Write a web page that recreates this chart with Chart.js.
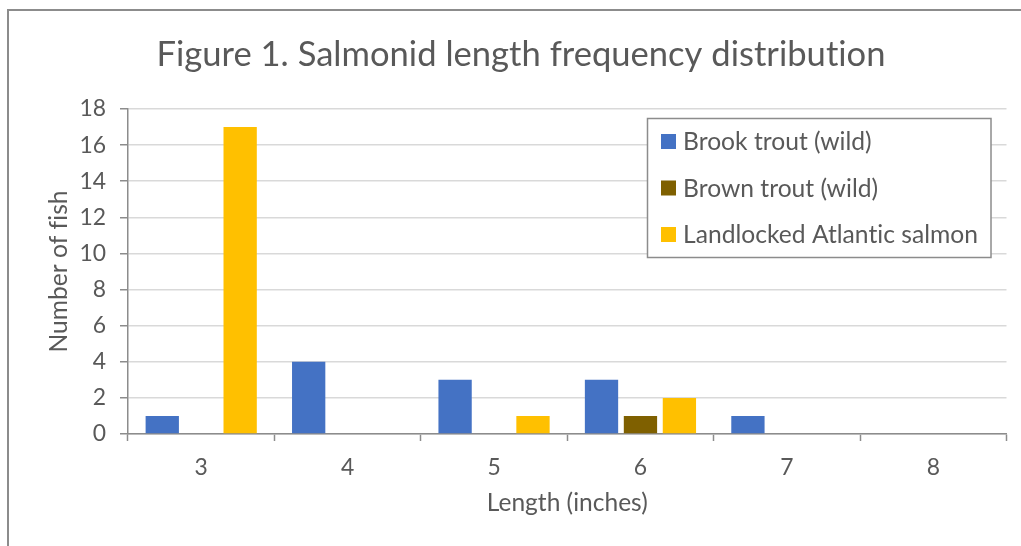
<!DOCTYPE html>
<html><head><meta charset="utf-8">
<script src="https://cdn.jsdelivr.net/npm/chart.js@4"></script>
<style>
html,body{margin:0;padding:0;background:#fff;overflow:hidden;width:1021px;height:546px;}
#wrap{position:absolute;left:0;top:0;width:1021px;height:546px;}
#frame{position:absolute;left:7px;top:9px;width:1100px;height:700px;border:2px solid #8c8c8c;box-sizing:border-box;pointer-events:none;}
</style></head><body>
<div id="wrap"><canvas id="c" width="1021" height="546"></canvas></div>
<div id="frame"></div>
<script>
// ---- data ----
const categories = ['3', '4', '5', '6', '7', '8'];
const brookTrout = [1, 4, 3, 3, 1, 0];
const brownTrout = [0, 0, 0, 1, 0, 0];
const atlanticSalmon = [17, 0, 1, 2, 0, 0];
const seriesNames = ['Brook trout (wild)', 'Brown trout (wild)', 'Landlocked Atlantic salmon'];
const chartTitle = 'Figure 1. Salmonid length frequency distribution';
const xTitle = 'Length (inches)';
const yTitle = 'Number of fish';
const yMin = 0, yMax = 18, yStep = 2;

// ---- styling ----
const FAMILY = 'Lato, "Open Sans", sans-serif';
const TEXT = '#595959';
const AXIS = '#8c8c8c';
const GRID = '#d9d9d9';
const colors = ['#4472C4', '#7F6000', '#FFC000'];
const SPACING = '0.01px'; // non-zero spacing disables ligatures (fi, ti)

function fit(text, target) {
  const c = document.createElement('canvas').getContext('2d');
  c.font = '100px ' + FAMILY;
  if ('letterSpacing' in c) c.letterSpacing = SPACING;
  return 100 * target / c.measureText(text).width;
}
const titleSize = fit(chartTitle, 729);
const legendSize = fit(seriesNames[2], 295);
const ySize = fit(yTitle, 162);
const xSize = fit(xTitle, 161);
const tickSize = legendSize * 0.93;
const PAD_L = 35.5, PAD_R = 14.5;

const noLigatures = {
  id: 'noLigatures',
  beforeDraw(chart) { if ('letterSpacing' in chart.ctx) chart.ctx.letterSpacing = SPACING; }
};

const legendBox = {
  id: 'legendBox',
  afterDraw(chart) {
    const ctx = chart.ctx;
    ctx.save();
    const x = 647.5, y = 118.5, w = 343.5, h = 139;
    ctx.fillStyle = '#fff';
    ctx.fillRect(x, y, w, h);
    ctx.strokeStyle = AXIS;
    ctx.lineWidth = 1.5;
    ctx.strokeRect(x, y, w, h);
    ctx.font = legendSize + 'px ' + FAMILY;
    ctx.textBaseline = 'middle';
    chart.data.datasets.forEach((ds, i) => {
      const cy = 141.5 + i * 46.5;
      ctx.fillStyle = ds.backgroundColor;
      ctx.fillRect(661, cy - 7.5, 15, 15);
      ctx.fillStyle = TEXT;
      ctx.fillText(ds.label, 683, cy + 1);
    });
    ctx.restore();
  }
};

const series = [brookTrout, brownTrout, atlanticSalmon];
new Chart(document.getElementById('c'), {
  type: 'bar',
  data: {
    labels: categories,
    datasets: series.map((d, i) => ({
      label: seriesNames[i],
      data: d,
      backgroundColor: colors[i],
      borderWidth: 0,
      categoryPercentage: 0.798,
      barPercentage: 0.855
    }))
  },
  options: {
    responsive: false,
    animation: false,
    devicePixelRatio: 1,
    layout: { padding: { left: PAD_L, right: PAD_R, top: 0, bottom: 0 } },
    plugins: {
      legend: { display: false },
      tooltip: { enabled: false },
      title: {
        display: true,
        text: chartTitle,
        color: TEXT,
        font: { family: FAMILY, size: titleSize, weight: 'normal', lineHeight: 1.2 },
        padding: { top: 55 - 0.6 * titleSize, bottom: 109 - 55 - 0.6 * titleSize }
      }
    },
    scales: {
      x: {
        afterFit(s) { s.height = 112; },
        grid: { offset: true, drawOnChartArea: false, tickLength: 7, tickColor: AXIS, tickWidth: 1.5 },
        border: { color: AXIS, width: 1.5 },
        ticks: { color: TEXT, padding: 13, font: { family: FAMILY, size: tickSize } },
        title: { display: true, text: xTitle, color: TEXT, font: { family: FAMILY, size: xSize, lineHeight: 1.2 }, padding: { top: 0, bottom: 43 - 0.6 * xSize } }
      },
      y: {
        min: yMin, max: yMax,
        afterFit(s) { s.width = 128 - PAD_L; },
        grid: { color: GRID, lineWidth: 1.5, tickLength: 8, tickColor: AXIS, tickWidth: 1.5 },
        border: { color: AXIS, width: 1.5 },
        ticks: { stepSize: yStep, color: TEXT, padding: 14, font: { family: FAMILY, size: tickSize } },
        title: { display: true, text: yTitle, color: TEXT, font: { family: FAMILY, size: ySize, lineHeight: 1.2 }, padding: { top: 59 - PAD_L - 0.6 * ySize, bottom: 0 } }
      }
    }
  },
  plugins: [noLigatures, legendBox]
});
</script>
</body></html>
